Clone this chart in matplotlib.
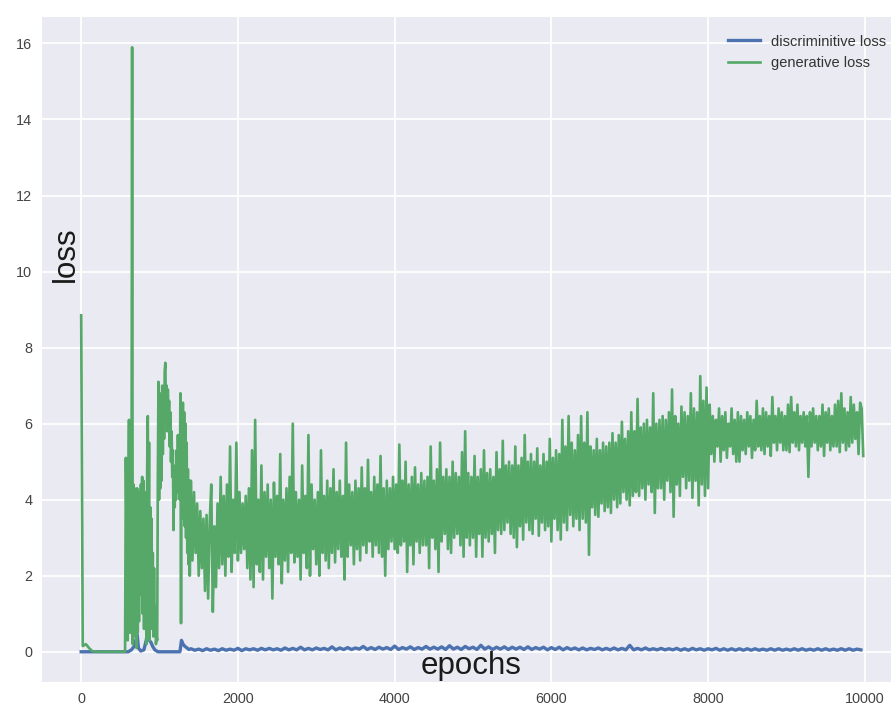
import numpy as np
import matplotlib
matplotlib.use("Agg")
import matplotlib.pyplot as plt

# ---- discriminator loss ----
# warm-up phase, irregularly sampled epochs
disc_epochs_early = [0, 100, 200, 300, 400, 500, 600, 640, 680, 715, 730, 760, 800,
                     830, 850, 870, 890, 910, 940, 980, 1100, 1260, 1280, 1300,
                     1320, 1350, 1375]
disc_loss_early = [0.0, 0.0, 0.0, 0.0, 0.0, 0.0, 0.0, 0.05, 0.15, 0.45, 0.1, 0.02, 0.05,
                   0.3, 0.55, 0.3, 0.25, 0.15, 0.05, 0.0, 0.0, 0.0, 0.3, 0.2,
                   0.15, 0.1, 0.06]
# logged every 50 epochs from epoch 1400 on
disc_loss_1400 = [0.08, 0.04, 0.07, 0.03, 0.08, 0.04, 0.07, 0.03, 0.08, 0.04,
                  0.07, 0.04, 0.09, 0.03, 0.08, 0.05, 0.08, 0.04, 0.09, 0.05]
disc_loss_2400 = [0.09, 0.05, 0.08, 0.04, 0.10, 0.05, 0.09, 0.05, 0.12, 0.05,
                  0.09, 0.05, 0.10, 0.06, 0.09, 0.05, 0.13, 0.05, 0.10, 0.06]
disc_loss_3400 = [0.11, 0.06, 0.10, 0.07, 0.14, 0.06, 0.11, 0.06, 0.12, 0.07,
                  0.11, 0.06, 0.15, 0.06, 0.11, 0.07, 0.13, 0.06, 0.11, 0.07]
disc_loss_4400 = [0.14, 0.07, 0.12, 0.07, 0.13, 0.06, 0.16, 0.07, 0.12, 0.06,
                  0.14, 0.08, 0.12, 0.06, 0.17, 0.07, 0.13, 0.06, 0.12, 0.07]
disc_loss_5400 = [0.13, 0.06, 0.12, 0.07, 0.12, 0.06, 0.13, 0.06, 0.11, 0.07,
                  0.12, 0.05, 0.11, 0.06, 0.12, 0.05, 0.11, 0.06, 0.10, 0.05]
disc_loss_6400 = [0.10, 0.05, 0.09, 0.06, 0.10, 0.05, 0.09, 0.05, 0.10, 0.05,
                  0.09, 0.05, 0.17, 0.05, 0.09, 0.05, 0.10, 0.05, 0.08, 0.05]
disc_loss_7400 = [0.09, 0.05, 0.08, 0.05, 0.09, 0.04, 0.08, 0.04, 0.09, 0.05,
                  0.08, 0.04, 0.08, 0.05, 0.09, 0.04, 0.08, 0.04, 0.08, 0.04]
disc_loss_8400 = [0.08, 0.04, 0.08, 0.04, 0.08, 0.04, 0.07, 0.04, 0.08, 0.04,
                  0.08, 0.04, 0.07, 0.04, 0.08, 0.04, 0.08, 0.04, 0.07, 0.04]
disc_loss_9400 = [0.08, 0.04, 0.08, 0.04, 0.07, 0.04, 0.08, 0.04, 0.08, 0.04,
                  0.07, 0.05]

# ---- generator loss ----
gen_epochs_early = [0, 20, 60, 100, 140, 200, 300, 400, 560,
                    570, 578, 586, 594, 602, 610, 618, 626, 634, 642,
                    650, 658, 666, 674, 682, 690, 698, 706, 714, 722,
                    730, 738, 746, 754, 762, 770, 778, 786, 794, 802,
                    810, 818, 826, 834, 842, 850, 858, 866, 874, 882,
                    890, 898, 906, 914, 922, 930, 938, 946, 954, 962,
                    970, 978, 986, 994, 1002, 1010, 1018, 1026, 1034, 1042,
                    1050, 1058, 1066, 1074, 1082, 1090, 1098, 1106, 1114, 1122,
                    1130, 1138, 1146, 1154, 1162, 1170, 1178, 1186, 1194, 1202,
                    1210, 1218, 1226, 1234, 1242, 1250, 1258, 1266, 1274, 1282,
                    1290, 1298, 1306, 1314, 1322, 1330, 1338, 1346, 1354, 1362,
                    1370, 1378, 1386]
gen_loss_early = [8.85, 0.15, 0.2, 0.1, 0.02, 0.0, 0.0, 0.0, 0.0,
                  5.1, 3.3, 4.9, 0.3, 4.6, 6.1, 3.4, 0.5, 4.3, 3.0,
                  15.9, 0.2, 4.4, 0.6, 4.3, 0.4, 4.0, 0.1, 4.3, 0.5,
                  3.9, 0.8, 4.2, 1.5, 4.4, 3.2, 4.6, 1.0, 4.5, 0.6,
                  4.2, 1.2, 3.6, 0.2, 4.8, 6.2, 2.5, 5.5, 0.3, 3.8,
                  1.0, 3.5, 0.6, 2.6, 0.4, 2.2, 0.5, 1.2, 0.2, 0.4,
                  0.3, 4.5, 7.1, 4.0, 6.8, 4.3, 6.6, 4.5, 7.0, 5.2,
                  6.9, 5.6, 7.4, 7.6, 6.2, 7.0, 5.8, 6.9, 6.0, 6.6,
                  5.4, 6.3, 5.0, 5.8, 4.6, 5.3, 3.2, 4.6, 3.8, 4.9,
                  4.0, 5.3, 4.2, 5.7, 4.6, 5.6, 4.0, 6.8, 0.75, 6.2,
                  3.6, 6.55, 3.5, 6.3, 3.3, 6.0, 3.0, 5.5, 2.6, 4.8,
                  2.3, 4.5, 2.0]
# logged every 20 epochs from epoch 1400 on
gen_loss_1400 = [4.5, 2.4, 4.2, 2.6, 3.9, 2.0, 3.7, 2.2, 3.5, 1.6,
                 3.6, 1.4, 3.4, 4.4, 1.05, 3.3, 1.7, 3.9, 2.2, 4.6,
                 2.3, 4.1, 2.0, 4.4, 2.5, 5.4, 2.1, 4.0, 2.6, 5.5,
                 2.4, 4.2, 2.6, 3.9, 2.7, 4.1, 2.2, 4.3, 1.9, 5.3,
                 1.7, 6.1, 2.3, 4.0, 2.1, 4.9, 1.9, 4.2, 2.5, 4.4]
gen_loss_2400 = [2.2, 4.0, 1.4, 4.45, 2.5, 4.1, 2.3, 5.2, 1.8, 4.0,
                 2.4, 4.3, 2.1, 4.6, 2.6, 6.0, 2.35, 4.2, 2.5, 4.0,
                 1.9, 4.9, 2.6, 4.1, 2.2, 5.7, 2.0, 4.4, 2.7, 4.0,
                 2.3, 4.2, 2.0, 5.3, 2.6, 4.1, 2.4, 4.5, 2.2, 4.3,
                 2.6, 4.8, 2.35, 4.2, 2.7, 4.5, 2.5, 4.1, 1.9, 5.5]
gen_loss_3400 = [2.5, 4.4, 2.8, 4.2, 2.3, 4.5, 2.7, 4.3, 2.4, 4.85,
                 2.8, 4.3, 2.6, 5.05, 2.9, 4.2, 2.5, 4.6, 2.8, 4.4,
                 2.6, 5.15, 2.5, 4.3, 2.0, 4.5, 2.7, 4.3, 2.9, 4.6,
                 2.7, 4.4, 2.6, 5.45, 2.8, 4.5, 2.9, 5.0, 2.1, 4.4,
                 2.8, 4.6, 2.3, 4.85, 2.9, 4.4, 2.6, 4.7, 2.8, 4.5]
gen_loss_4400 = [2.8, 4.6, 2.2, 5.4, 3.0, 4.5, 2.7, 4.8, 2.1, 5.5,
                 2.9, 4.6, 3.1, 4.8, 2.7, 4.6, 2.6, 5.0, 3.0, 4.7,
                 3.1, 4.6, 2.8, 5.25, 2.5, 5.8, 3.0, 4.7, 2.8, 4.6,
                 3.0, 5.15, 2.5, 4.6, 3.1, 4.8, 2.5, 5.3, 3.0, 4.7,
                 2.9, 4.8, 3.1, 4.6, 2.6, 5.25, 3.2, 4.8, 3.1, 5.55]
gen_loss_5400 = [3.2, 4.9, 3.4, 5.0, 3.1, 4.9, 3.0, 5.4, 2.75, 4.9,
                 3.3, 5.1, 2.95, 5.7, 3.4, 5.0, 3.2, 5.2, 3.1, 5.0,
                 3.5, 5.35, 3.05, 4.9, 3.4, 5.2, 3.2, 5.0, 3.3, 5.6,
                 2.9, 5.1, 3.5, 5.3, 3.2, 5.2, 2.95, 6.1, 3.4, 5.4,
                 3.2, 6.2, 3.6, 5.5, 3.3, 5.3, 3.5, 5.7, 3.2, 6.2]
gen_loss_6400 = [3.5, 5.5, 3.4, 6.3, 2.55, 5.4, 3.8, 5.3, 3.6, 5.6,
                 3.55, 5.3, 3.9, 5.5, 3.7, 5.4, 3.8, 5.5, 3.65, 5.75,
                 4.0, 5.5, 3.8, 5.7, 3.9, 6.05, 4.2, 5.6, 4.0, 5.8,
                 3.85, 6.3, 4.1, 5.8, 4.2, 6.65, 4.1, 5.9, 4.3, 6.0,
                 4.0, 6.1, 4.4, 5.9, 4.2, 6.8, 3.65, 6.0, 4.3, 6.1]
gen_loss_7400 = [4.3, 6.2, 4.0, 6.1, 4.5, 6.3, 4.2, 6.9, 3.55, 6.2,
                 4.4, 6.0, 4.1, 6.45, 4.6, 6.3, 4.3, 6.2, 4.5, 6.8,
                 4.05, 6.4, 4.5, 6.3, 3.85, 7.25, 4.4, 6.6, 4.1, 6.95,
                 4.3, 6.5, 5.2, 6.2, 5.0, 6.1, 5.4, 6.4, 5.0, 6.2,
                 5.3, 6.3, 5.1, 6.0, 5.4, 6.4, 5.2, 6.1, 5.0, 6.3]
gen_loss_8400 = [5.0, 6.2, 5.3, 6.1, 5.2, 6.3, 5.4, 6.2, 5.1, 6.1,
                 5.3, 6.6, 5.4, 6.2, 5.3, 6.4, 5.2, 6.3, 5.4, 6.2,
                 5.15, 6.7, 5.5, 6.2, 5.3, 6.4, 5.5, 6.3, 5.3, 6.2,
                 5.3, 6.5, 5.25, 6.7, 5.5, 6.3, 5.4, 6.5, 5.3, 6.2,
                 5.5, 6.3, 5.4, 6.2, 4.6, 6.3, 5.4, 6.4, 5.5, 6.2]
gen_loss_9400 = [5.3, 6.2, 5.4, 6.5, 5.15, 6.3, 5.5, 6.4, 5.3, 6.2,
                 5.4, 6.5, 5.4, 6.6, 5.25, 6.8, 5.5, 6.4, 5.3, 6.3,
                 5.4, 6.7, 5.5, 6.5, 5.6, 6.3, 5.2, 6.55, 6.4, 5.15]

series_labels = ["discriminitive loss", "generative loss"]
x_ticks = [0, 2000, 4000, 6000, 8000, 10000]
y_ticks = [0, 2, 4, 6, 8, 10, 12, 14, 16]

# assemble full series
disc_late = (disc_loss_1400 + disc_loss_2400 + disc_loss_3400 + disc_loss_4400 +
             disc_loss_5400 + disc_loss_6400 + disc_loss_7400 + disc_loss_8400 +
             disc_loss_9400)
disc_x = np.concatenate([disc_epochs_early, 1400 + 50 * np.arange(len(disc_late))])
disc_y = np.concatenate([disc_loss_early, disc_late])

gen_late = (gen_loss_1400 + gen_loss_2400 + gen_loss_3400 + gen_loss_4400 +
            gen_loss_5400 + gen_loss_6400 + gen_loss_7400 + gen_loss_8400 +
            gen_loss_9400)
gen_x = np.concatenate([gen_epochs_early, 1400 + 20 * np.arange(len(gen_late))])
gen_y = np.concatenate([gen_loss_early, gen_late])

plt.rcParams["font.family"] = ["Liberation Sans", "DejaVu Sans"]

fig = plt.figure(figsize=(8.91, 7.13), dpi=100)
ax = fig.add_axes([42 / 891, 31 / 713, 862 / 891, 665 / 713])
ax.set_facecolor("#EAEAF2")
for s in ax.spines.values():
    s.set_visible(False)
ax.grid(True, color="white", linewidth=1.3)
ax.set_axisbelow(True)

ax.plot(disc_x, disc_y, color="#4C72B0", linewidth=2.4, label=series_labels[0])
ax.plot(gen_x, gen_y, color="#55A868", linewidth=1.9, label=series_labels[1])

ax.set_xlim(-500, 10500)
ax.set_xticks(x_ticks)
ax.set_yticks(y_ticks)
ax.tick_params(length=0, pad=7, labelsize=10.4, labelcolor="#444444")

ax.text(0.4977, 0.024, "epochs", transform=ax.transAxes, ha="center", va="center",
        fontsize=22.5, color="#1a1a1a")
ax.text(0.0278, 0.6436, "loss", transform=ax.transAxes, ha="center", va="center",
        rotation=90, fontsize=22.5, color="#1a1a1a")

leg = ax.legend(loc="upper right", frameon=False, fontsize=10.5, handlelength=2.2,
                borderaxespad=0.8)
for t in leg.get_texts():
    t.set_color("#333333")

fig.savefig("out.png", dpi=100, facecolor="white")
